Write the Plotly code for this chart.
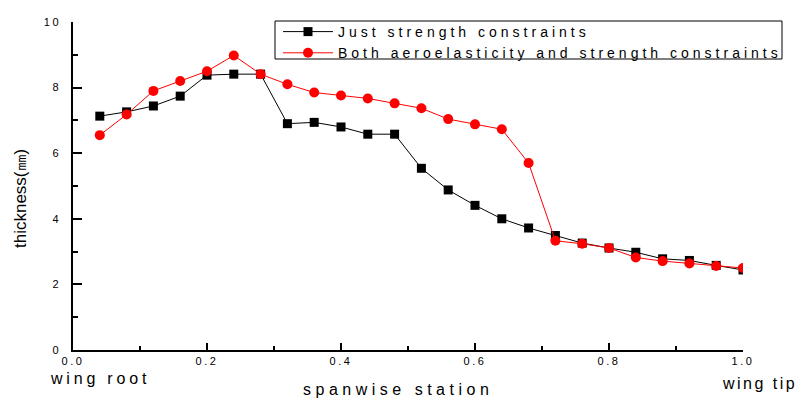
import plotly.graph_objects as go

station = [0.04, 0.08, 0.12, 0.16, 0.20, 0.24, 0.28, 0.32, 0.36, 0.40, 0.44, 0.48, 0.52,
           0.56, 0.60, 0.64, 0.68, 0.72, 0.76, 0.80, 0.84, 0.88, 0.92, 0.96, 1.00]
just_strength = [7.13, 7.26, 7.44, 7.74, 8.38, 8.41, 8.41, 6.90, 6.94, 6.80, 6.58, 6.58, 5.54,
                 4.88, 4.41, 4.00, 3.72, 3.49, 3.26, 3.11, 2.98, 2.78, 2.73, 2.58, 2.44]
both_constraints = [6.55, 7.18, 7.90, 8.20, 8.50, 8.98, 8.41, 8.10, 7.85, 7.76, 7.67, 7.52, 7.37,
                    7.04, 6.88, 6.73, 5.70, 3.33, 3.24, 3.11, 2.82, 2.71, 2.64, 2.56, 2.50]
series_names = ["Just strength constraints", "Both aeroelasticity and strength constraints"]
x_tickvals = [0.0, 0.2, 0.4, 0.6, 0.8, 1.0]
x_ticktext = ["0.0", "0.2", "0.4", "0.6", "0.8", "1.0"]
y_tickvals = [0, 2, 4, 6, 8, 10]
y_ticktext = ["0", "2", "4", "6", "8", "10"]

FONT = "Liberation Sans, Arial, sans-serif"

# plot area in pixels (for converting layout-decoration positions to paper coords)
L, R, T, B = 73, 743, 22, 350
W, H = R - L, B - T


def px_x(p):
    return (p - L) / W


def px_y(p):
    return (B - p) / H


def spaced(s, px=3):
    return f'<span style="letter-spacing:{px}px">{s}</span>'


fig = go.Figure()
fig.add_trace(go.Scatter(
    x=station, y=just_strength, name=spaced(series_names[0], 4), mode="lines+markers",
    line=dict(color="black", width=1),
    marker=dict(symbol="square", size=9, color="black"),
))
fig.add_trace(go.Scatter(
    x=station, y=both_constraints, name=spaced(series_names[1], 4), mode="lines+markers",
    line=dict(color="red", width=1),
    marker=dict(symbol="circle", size=10, color="red"),
))

fig.update_layout(
    width=803, height=399,
    margin=dict(l=L, r=803 - R, t=T, b=399 - B),
    paper_bgcolor="white", plot_bgcolor="white",
    font=dict(family=FONT, color="black", size=13),
    showlegend=True,
    legend=dict(
        x=px_x(278), y=px_y(16), xanchor="left", yanchor="top",
        borderwidth=0, bgcolor="rgba(0,0,0,0)",
        font=dict(size=14, family=FONT), itemwidth=50,
        tracegroupgap=0,
    ),
    xaxis=dict(
        range=[0, 1], tickvals=x_tickvals,
        ticktext=[spaced(t, 2.5) for t in x_ticktext],
        showline=True, linecolor="black", linewidth=1.5,
        ticks="inside", ticklen=7, tickwidth=1.5, tickcolor="black",
        minor=dict(ticks="inside", ticklen=4, tickwidth=1.5, tickcolor="black", dtick=0.1),
        showgrid=False, zeroline=False, tickfont=dict(size=11),
    ),
    yaxis=dict(
        range=[0, 10], tickvals=y_tickvals,
        ticktext=[spaced(t, 2.5) for t in y_ticktext],
        showline=True, linecolor="black", linewidth=1.5,
        ticks="inside", ticklen=9, tickwidth=1.5, tickcolor="black",
        minor=dict(ticks="inside", ticklen=5, tickwidth=1.5, tickcolor="black", dtick=1),
        showgrid=False, zeroline=False, tickfont=dict(size=11),
        ticklabelstandoff=8,
    ),
    shapes=[dict(type="rect", xref="paper", yref="paper",
                 x0=px_x(275), x1=px_x(782), y0=px_y(59), y1=px_y(21),
                 line=dict(color="black", width=1), fillcolor="rgba(0,0,0,0)", layer="below")],
)

fig.add_annotation(text="thickness(㎜)", textangle=-90, x=0, y=px_y(199),
                   xref="paper", yref="paper", xanchor="center", yanchor="middle",
                   xshift=21 - L, showarrow=False, font=dict(size=17))
fig.add_annotation(text=spaced("wing root", 3.8), x=0.0, y=0, xref="paper", yref="paper",
                   xanchor="left", yanchor="middle", yshift=-28, xshift=48 - L, showarrow=False,
                   font=dict(size=16))
fig.add_annotation(text=spaced("spanwise station", 4.5), x=px_x(397.5), y=0, xref="paper",
                   yref="paper", xanchor="center", yanchor="middle", yshift=-(389 - B),
                   showarrow=False, font=dict(size=16))
fig.add_annotation(text=spaced("wing tip", 2.5), x=1.0, y=0, xref="paper", yref="paper",
                   xanchor="left", yanchor="middle", yshift=-33, xshift=720 - R, showarrow=False,
                   font=dict(size=16))

fig.write_html("out.html")
